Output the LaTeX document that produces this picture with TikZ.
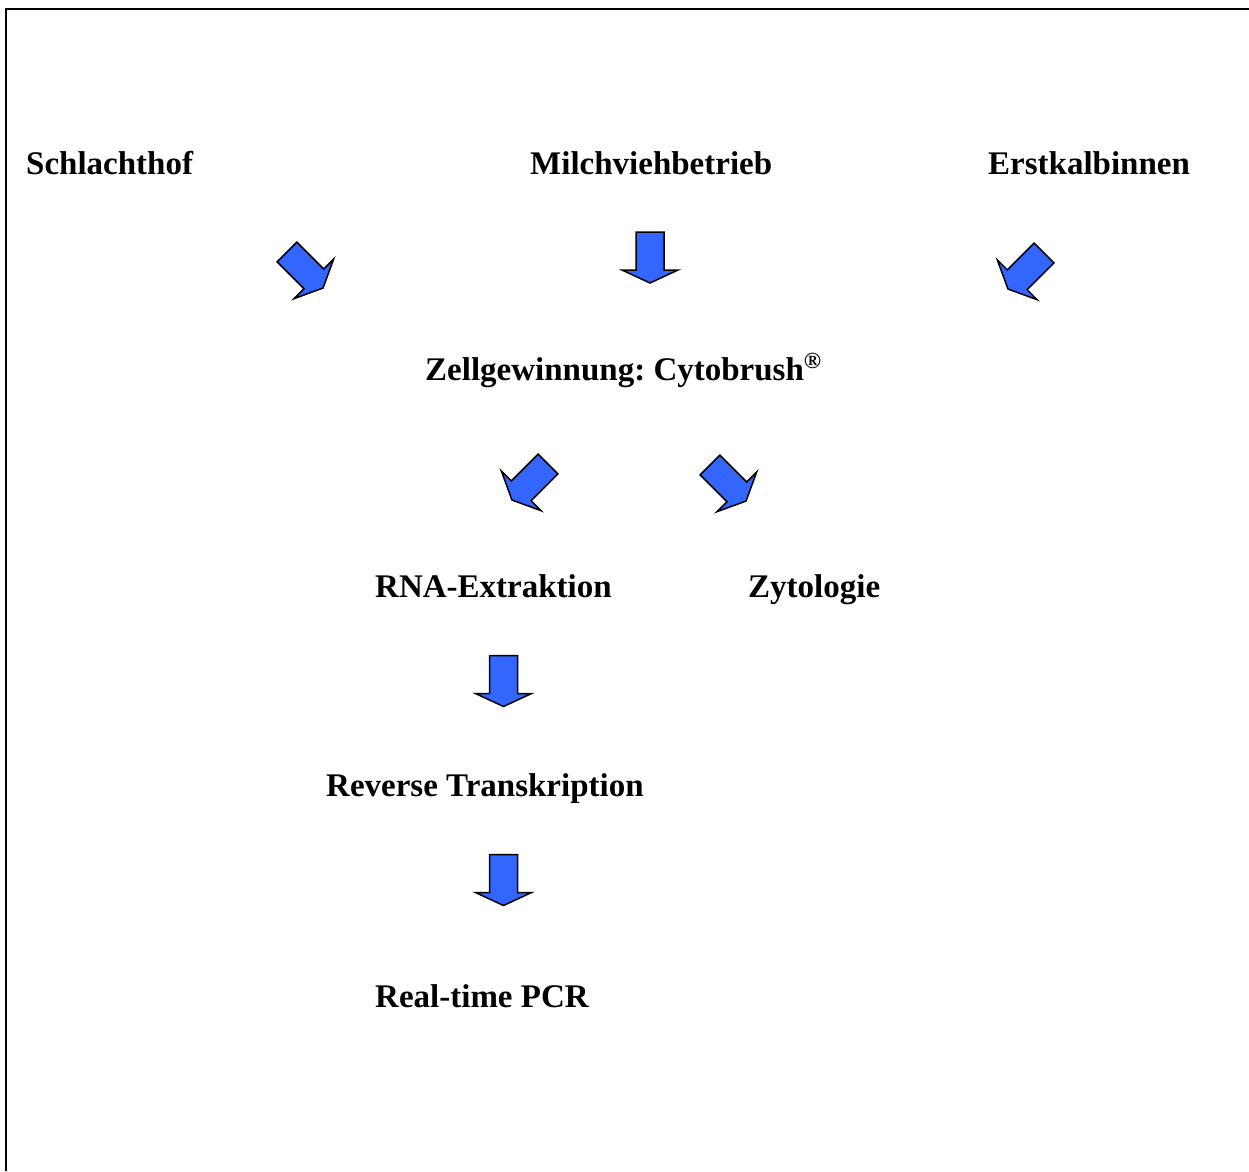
\documentclass[tikz,border=0pt]{standalone}
\usepackage{fontspec}
\setmainfont{Liberation Serif}
\definecolor{arrowblue}{RGB}{51,102,255}
\tikzset{
  lbl/.style={font=\fontsize{33}{40}\selectfont\bfseries\frenchspacing, inner sep=0pt, anchor=base west},
  frame/.style={line width=2pt},
  barrow/.pic={\draw[fill=arrowblue, line width=1.5pt, line join=miter]
     (-14,-25.5) -- (14,-25.5) -- (14,12.5) -- (28,12.5) -- (0,25.5) -- (-28,12.5) -- (-14,12.5) -- cycle;}
}
\begin{document}
\begin{tikzpicture}[x=1pt,y=-1pt]
\useasboundingbox (0,0) rectangle (1249,1171);
\coordinate (fbl) at (6,1171);
\coordinate (ftl) at (6,9);
\coordinate (ftr) at (1249,9);
\draw[frame] (fbl) -- (ftl) -- (ftr);

\node[lbl] (schlacht) at (26,174) {Schlachthof};
\node[lbl] (milch) at (530,174) {Milchviehbetrieb};
\node[lbl] (erst) at (988,174) {Erstkalbinnen};
\node[lbl] (zell) at (425,380) {Zellgewinnung: Cytobrush\raisebox{2pt}{\textsuperscript{\textregistered}}};
\node[lbl] (rna) at (375,597) {RNA-Extraktion};
\node[lbl] (zyto) at (748,597) {Zytologie};
\node[lbl] (rt) at (326,796) {Reverse Transkription};
\node[lbl] (pcr) at (375,1007) {Real-time PCR};

\pic[rotate=45] at (305,270) {barrow};
\pic at (650,257.5) {barrow};
\pic[rotate=-45] at (1026,271) {barrow};
\pic[rotate=-45] at (530,482) {barrow};
\pic[rotate=45] at (728,483) {barrow};
\pic at (503.5,681) {barrow};
\pic at (503.5,880) {barrow};
\end{tikzpicture}
\end{document}
